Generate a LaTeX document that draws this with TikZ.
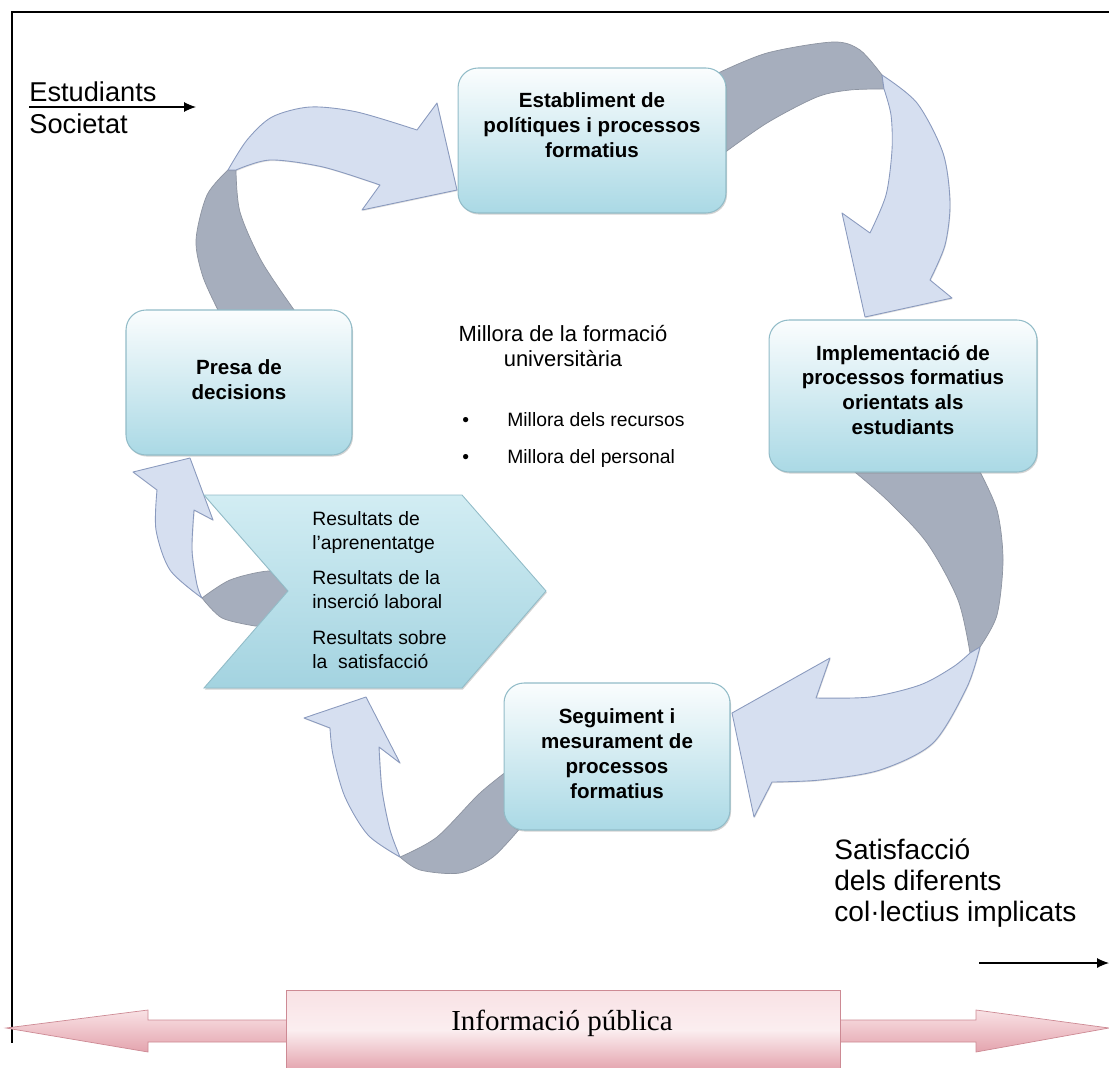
\documentclass[tikz,border=0pt]{standalone}
\usepackage{fontspec}
\setmainfont{Liberation Sans}
\newfontfamily\infofont{Liberation Serif}
\usetikzlibrary{arrows.meta,shadows}
\definecolor{boxcyan}{RGB}{170,217,229}
\definecolor{boxedge}{RGB}{146,188,200}
\definecolor{chevtop}{RGB}{210,237,243}
\definecolor{chevbot}{RGB}{163,211,224}
\definecolor{ribbon}{RGB}{214,223,240}
\definecolor{ribbonedge}{RGB}{138,154,190}
\definecolor{ribbonback}{RGB}{166,174,189}
\definecolor{pinkfill}{RGB}{244,206,211}
\definecolor{pinkdark}{RGB}{228,164,174}
\definecolor{pinkedge}{RGB}{205,138,148}
\begin{document}
\begin{tikzpicture}[x=0.02cm, y=-0.02cm,
    procbox/.style={draw=boxedge, line width=0.6pt, rounded corners=0.4cm, top color=white!95!boxcyan, bottom color=boxcyan, drop shadow={opacity=0.35, shadow xshift=0.6pt, shadow yshift=-0.9pt}},
    proctxt/.style={align=center, font=\fontsize{11.7}{14.2}\selectfont\bfseries, inner sep=0pt},
    ribfront/.style={fill=ribbon, draw=ribbonedge, line width=0.5pt, line join=round, drop shadow={opacity=0.25, shadow xshift=0.4pt, shadow yshift=-0.6pt}},
    ribback/.style={fill=ribbonback, draw=ribbonback!85!black, line width=0.4pt, line join=round},
    restxt/.style={align=left, font=\fontsize{11}{13.7}\selectfont, inner sep=0pt},
    sidetxt/.style={align=left, font=\fontsize{15.5}{17.6}\selectfont, inner sep=0pt},
    thinarrow/.style={line width=0.6pt, -{Latex[length=2.4mm,width=2mm]}},
    pinkshape/.style={top color=pinkfill!60!white, bottom color=pinkdark, draw=pinkedge, line width=0.4pt}]
    \useasboundingbox (0,0) rectangle (1109,1068);

    \draw[line width=0.8pt] (1109,12) -- (12,12) -- (12,1043);

    \filldraw[ribback] plot[smooth] coordinates {(228,170) (207,195) (196,240) (203,277) (220,314)} -- plot[smooth] coordinates {(297,314) (262,262) (240,212) (236,170)} -- cycle;
    \filldraw[ribfront] plot[smooth] coordinates {(228,170) (247,140) (272,117) (310,107) (357,112) (417,130)} -- (437,103) -- (457,190) -- (362,210) -- plot[smooth] coordinates {(380,185) (323,167) (270,160) (236,170)} -- cycle;

    \filldraw[ribback] plot[smooth] coordinates {(716,74) (767,53) (833,42) (860,50) (882,75)} -- plot[smooth] coordinates {(884,89) (850,90) (817,97) (767,123) (720,156)} -- cycle;
    \filldraw[ribfront] plot[smooth] coordinates {(882,75) (917,103) (943,153) (950,203) (945,245) (930,280)} -- (952,298) -- (865,317) -- (842,213) -- plot[smooth] coordinates {(870,233) (886,195) (892,150) (891,115) (884,89)} -- cycle;

    \filldraw[ribback] plot[smooth] coordinates {(850,468) (887,500) (927,543) (958,600) (970,653)} -- plot[smooth] coordinates {(980,647) (997,615) (1003,560) (997,510) (978,468)} -- cycle;
    \filldraw[ribfront] plot[smooth] coordinates {(980,647) (967,687) (933,743) (880,770) (820,780) (772,782)} -- (754,817) -- (732,713) -- (830,658) -- plot[smooth] coordinates {(816,698) (870,697) (920,685) (953,667) (970,653)} -- cycle;

    \filldraw[ribback] plot[smooth] coordinates {(515,765) (480,793) (437,837) (400,857)} -- plot[smooth] coordinates {(400,857) (420,870) (460,873) (493,857) (522,826)} -- cycle;
    \filldraw[ribfront] plot[smooth] coordinates {(400,857) (368,835) (345,797) (333,755) (330,728)} -- (304,718) -- (366,697) -- (400,763) -- plot[smooth] coordinates {(379,747) (382,790) (390,830) (400,857)} -- cycle;

    \filldraw[ribback] plot[smooth] coordinates {(202,598) (230,580) (268,571) (300,575)} -- (300,628) -- plot[smooth] coordinates {(255,626) (222,618) (202,598)} -- cycle;
    \filldraw[ribfront] plot[smooth] coordinates {(202,598) (170,570) (156,530) (157,490)} -- (133,472) -- (190,458) -- (213,520) -- plot[smooth] coordinates {(194,510) (192,550) (197,585) (202,598)} -- cycle;

    \shade[top color=chevtop, bottom color=chevbot, draw=boxedge, line width=0.5pt, drop shadow={opacity=0.35, shadow xshift=0.5pt, shadow yshift=-0.9pt}] (204,495) -- (462,495) -- (546,591) -- (462,688) -- (204,688) -- (288,591) -- cycle;

    \node[procbox, minimum width=5.36cm, minimum height=2.9cm] (establ) at (592,140.5) {};
    \node[procbox, minimum width=4.52cm, minimum height=2.9cm] (presa) at (239,382.5) {};
    \node[procbox, minimum width=5.36cm, minimum height=3.04cm] (impl) at (903,396) {};
    \node[procbox, minimum width=4.52cm, minimum height=2.94cm] (segui) at (617,756.5) {};

    \node[proctxt] (establtxt) at (592,125) {Establiment de\\pol\'itiques i processos\\formatius};
    \node[proctxt] (presatxt) at (239,380) {Presa de\\decisions};
    \node[proctxt] (impltxt) at (903,390) {Implementaci\'o de\\processos formatius\\orientats als\\estudiants};
    \node[proctxt] (seguitxt) at (617,754) {Seguiment i\\mesurament de\\processos\\formatius};

    \node[restxt] (restxt) at (312,590) [anchor=west] {Resultats de\\l'aprenentatge\\[2.3mm]Resultats de la\\inserci\'o laboral\\[2.3mm]Resultats sobre\\la\ \ satisfacci\'o};

    \node[align=center, inner sep=0pt, font=\fontsize{12.5}{14.2}\selectfont] (millora) at (563,346) {Millora de la formaci\'o\\universit\`aria};
    \node[restxt, anchor=west] (recursos) at (462,420) {\makebox[0.9cm][l]{\textbullet}Millora dels recursos};
    \node[restxt, anchor=west] (personal) at (462,458) {\makebox[0.9cm][l]{\textbullet}Millora del personal};

    \node[sidetxt, anchor=base west] (estud) at (29,102) {Estudiants};
    \node[sidetxt, anchor=base west] (societat) at (29,133) {Societat};
    \coordinate (estuda) at (29,107);
    \coordinate (estudb) at (196,107);
    \draw[thinarrow] (estuda) -- (estudb);

    \node[align=left, inner sep=0pt, font=\fontsize{16}{17.6}\selectfont, anchor=west] (satisf) at (834,883) {Satisfacci\'o\\dels diferents\\col·lectius implicats};
    \coordinate (satisfa) at (979,963);
    \coordinate (satisfb) at (1109,963);
    \draw[thinarrow] (satisfa) -- (satisfb);

    \shade[pinkshape] (6,1028) -- (148,1010) -- (148,1020) -- (290,1020) -- (290,1042) -- (148,1042) -- (148,1052) -- cycle;
    \shade[pinkshape] (1109,1028) -- (976,1010) -- (976,1020) -- (836,1020) -- (836,1042) -- (976,1042) -- (976,1052) -- cycle;
    \node[pinkshape, minimum width=11.08cm, minimum height=1.6cm, middle color=pinkfill!35!white] (info) at (563,1030) {};
    \node[inner sep=0pt, font=\infofont\fontsize{16.5}{18}\selectfont] (infotxt) at (562,1023) {Informaci\'o p\'ublica};
\end{tikzpicture}
\end{document}
